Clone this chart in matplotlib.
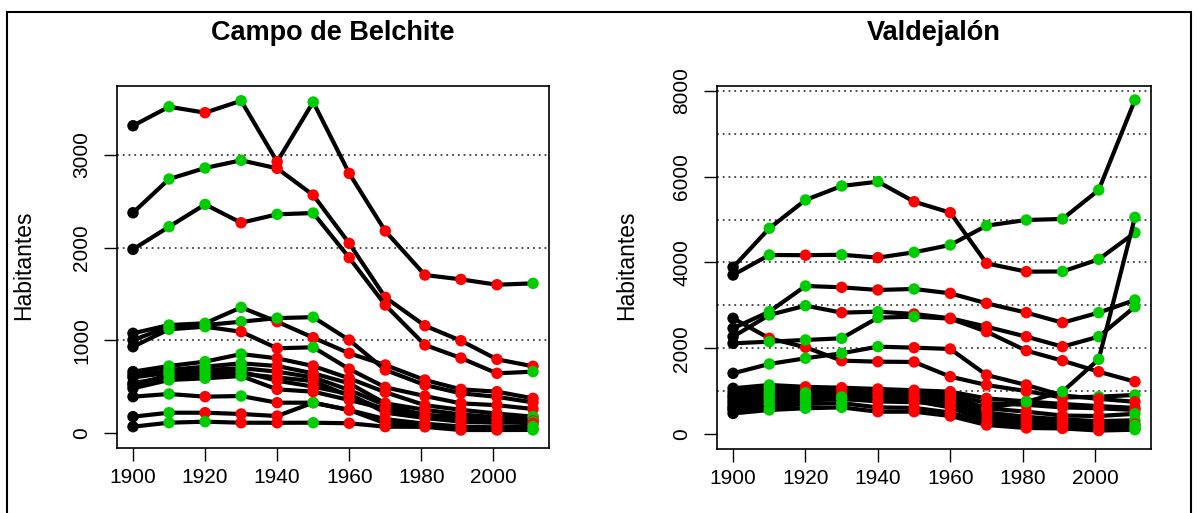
#!/usr/bin/env python3
"""Evolucion de habitantes por municipio: Campo de Belchite y Valdejalon.

Cada serie es un municipio. El primer punto va en negro, los siguientes en
verde si la poblacion sube respecto al censo anterior y en rojo si baja.
"""

import matplotlib
matplotlib.use("Agg")
import matplotlib.pyplot as plt
from matplotlib.patches import Rectangle

plt.rcParams["font.family"] = ["Liberation Sans", "DejaVu Sans"]

years = [1900, 1910, 1920, 1930, 1940, 1950, 1960, 1970, 1981, 1991, 2001, 2011]

# Campo de Belchite
belchite_1 = [3316, 3521, 3457, 3586, 2928, 3572, 2802, 2180, 1705, 1658, 1600, 1615]
belchite_2 = [2377, 2741, 2860, 2943, 2856, 2568, 2047, 1464, 1158, 996, 795, 720]
belchite_3 = [1982, 2226, 2467, 2269, 2360, 2374, 1892, 1381, 950, 809, 644, 662]
belchite_4 = [1076, 1165, 1184, 1356, 1201, 1029, 860, 734, 572, 471, 446, 374]
belchite_5 = [1003, 1147, 1165, 1201, 1240, 1250, 1003, 680, 518, 428, 390, 330]
belchite_6 = [931, 1119, 1147, 1093, 914, 925, 690, 493, 399, 320, 300, 259]
belchite_7 = [662, 723, 770, 852, 806, 723, 590, 440, 300, 250, 210, 176]
belchite_8 = [626, 680, 716, 752, 723, 644, 536, 320, 250, 200, 170, 150]
belchite_9 = [600, 650, 680, 700, 662, 600, 464, 300, 194, 176, 158, 176]
belchite_10 = [540, 600, 620, 640, 600, 560, 400, 250, 200, 140, 130, 130]
belchite_11 = [518, 626, 644, 662, 564, 500, 420, 219, 162, 122, 110, 120]
belchite_12 = [482, 572, 590, 615, 471, 446, 356, 260, 180, 150, 120, 105]
belchite_13 = [392, 421, 392, 399, 327, 327, 248, 105, 90, 60, 50, 40]
belchite_14 = [176, 219, 219, 205, 183, 327, 248, 150, 100, 70, 60, 70]
belchite_15 = [68, 111, 122, 111, 110, 111, 105, 68, 66, 32, 32, 33]

# Valdejalon
valde_1 = [3888, 4797, 5458, 5784, 5885, 5418, 5162, 3981, 3786, 3790, 4074, 4695]
valde_2 = [3708, 4175, 4170, 4180, 4113, 4238, 4408, 4859, 4991, 5015, 5691, 7790]
valde_3 = [2465, 2853, 3452, 3421, 3359, 3382, 3281, 3048, 2830, 2596, 2830, 3125]
valde_4 = [2270, 2776, 2993, 2830, 2853, 2799, 2700, 2503, 2270, 2037, 2270, 2969]
valde_5 = [2698, 2232, 2022, 1710, 1687, 1680, 1337, 1143, 1000, 850, 870, 910]
valde_6 = [2115, 2153, 2193, 2232, 2713, 2736, 2690, 2387, 1943, 1710, 1453, 1220]
valde_7 = [1415, 1633, 1766, 1882, 2037, 2013, 1983, 1376, 1143, 900, 820, 750]
valde_8 = [1066, 1143, 1100, 1080, 1050, 1020, 987, 830, 760, 700, 650, 610]
valde_9 = [980, 1080, 1050, 1040, 1000, 980, 930, 720, 680, 620, 600, 560]
valde_10 = [900, 1000, 1000, 990, 950, 930, 880, 600, 520, 430, 420, 470]
valde_11 = [850, 950, 960, 940, 900, 880, 820, 500, 400, 340, 300, 320]
valde_12 = [780, 880, 900, 900, 860, 850, 760, 420, 330, 290, 250, 230]
valde_13 = [720, 820, 850, 860, 830, 820, 700, 350, 260, 220, 180, 200]
valde_14 = [650, 750, 800, 820, 780, 770, 620, 300, 220, 180, 140, 150]
valde_15 = [560, 620, 700, 720, 620, 610, 500, 250, 180, 140, 110, 120]
valde_16 = [480, 560, 600, 620, 520, 520, 420, 210, 140, 130, 80, 100]
valde_17 = [600, 700, 780, 820, 760, 740, 720, 600, 750, 987, 1742, 5054]

belchite = [belchite_1, belchite_2, belchite_3, belchite_4, belchite_5,
            belchite_6, belchite_7, belchite_8, belchite_9, belchite_10,
            belchite_11, belchite_12, belchite_13, belchite_14, belchite_15]
valdejalon = [valde_1, valde_2, valde_3, valde_4, valde_5, valde_6, valde_7,
              valde_8, valde_9, valde_10, valde_11, valde_12, valde_13,
              valde_14, valde_15, valde_16, valde_17]

belchite_yticks = [0, 1000, 2000, 3000]
belchite_grid = [1000, 2000, 3000]
valde_yticks = [0, 2000, 4000, 6000, 8000]
valde_grid = [1000, 2000, 3000, 4000, 5000, 6000, 7000, 8000]
xticks = [1900, 1920, 1940, 1960, 1980, 2000]

GREEN = "#00CD00"
RED = "#FF0000"
W, H = 1197, 513


def point_colors(values):
    cols = ["black"]
    for prev, cur in zip(values[:-1], values[1:]):
        cols.append(GREEN if cur > prev else RED)
    return cols


def draw_panel(ax, series, yticks, grid, ylim, title, title_x, ylabel_x):
    for g in grid:
        ax.axhline(g, color="0.25", lw=1.3, ls=(0, (1, 2.2)), zorder=1)

    z = 2
    for vals in series:
        ax.plot(years, vals, color="black", lw=3, solid_capstyle="round",
                solid_joinstyle="round", zorder=z)
        ax.scatter(years, vals, c=point_colors(vals), s=68, edgecolors="none",
                   zorder=z + 0.5)
        z += 1

    ax.set_xlim(1895.56, 2015.44)
    ax.set_ylim(*ylim)
    ax.set_xticks(xticks)
    ax.set_yticks(yticks)
    ax.tick_params(axis="both", direction="out", length=9.5, width=1,
                   labelsize=15, color="black")
    ax.tick_params(axis="x", pad=5)
    ax.tick_params(axis="y", pad=9)
    for lab in ax.get_yticklabels():
        lab.set_rotation(90)
        lab.set_va("center")
    for sp in ax.spines.values():
        sp.set_linewidth(1.2)

    fig = ax.figure
    fig.text(title_x / W, 1 - 33 / H, title, ha="center", va="center",
             fontsize=19.5, fontweight="bold")
    fig.text(ylabel_x / W, 1 - 265 / H, "Habitantes", ha="center",
             va="center", rotation=90, fontsize=16.5)


def main():
    fig = plt.figure(figsize=(W / 100, H / 100), dpi=100)

    ax1 = fig.add_axes([117 / W, 1 - 448 / H, 432 / W, 362 / H])
    ax2 = fig.add_axes([717 / W, 1 - 449 / H, 434 / W, 363 / H])

    draw_panel(ax1, belchite, belchite_yticks, belchite_grid, (-162, 3745),
               "Campo de Belchite", 333, 24)
    draw_panel(ax2, valdejalon, valde_yticks, valde_grid, (-350, 8116),
               "Valdejalón", 934, 627)

    # marco exterior de la figura
    fig.patches.append(Rectangle((7 / W, -0.05), 1184 / W, 1.05 - 12 / H,
                                 transform=fig.transFigure, fill=False,
                                 lw=1.5, ec="black"))

    fig.savefig("out.png", dpi=100)
    return 0


if __name__ == "__main__":
    main()
